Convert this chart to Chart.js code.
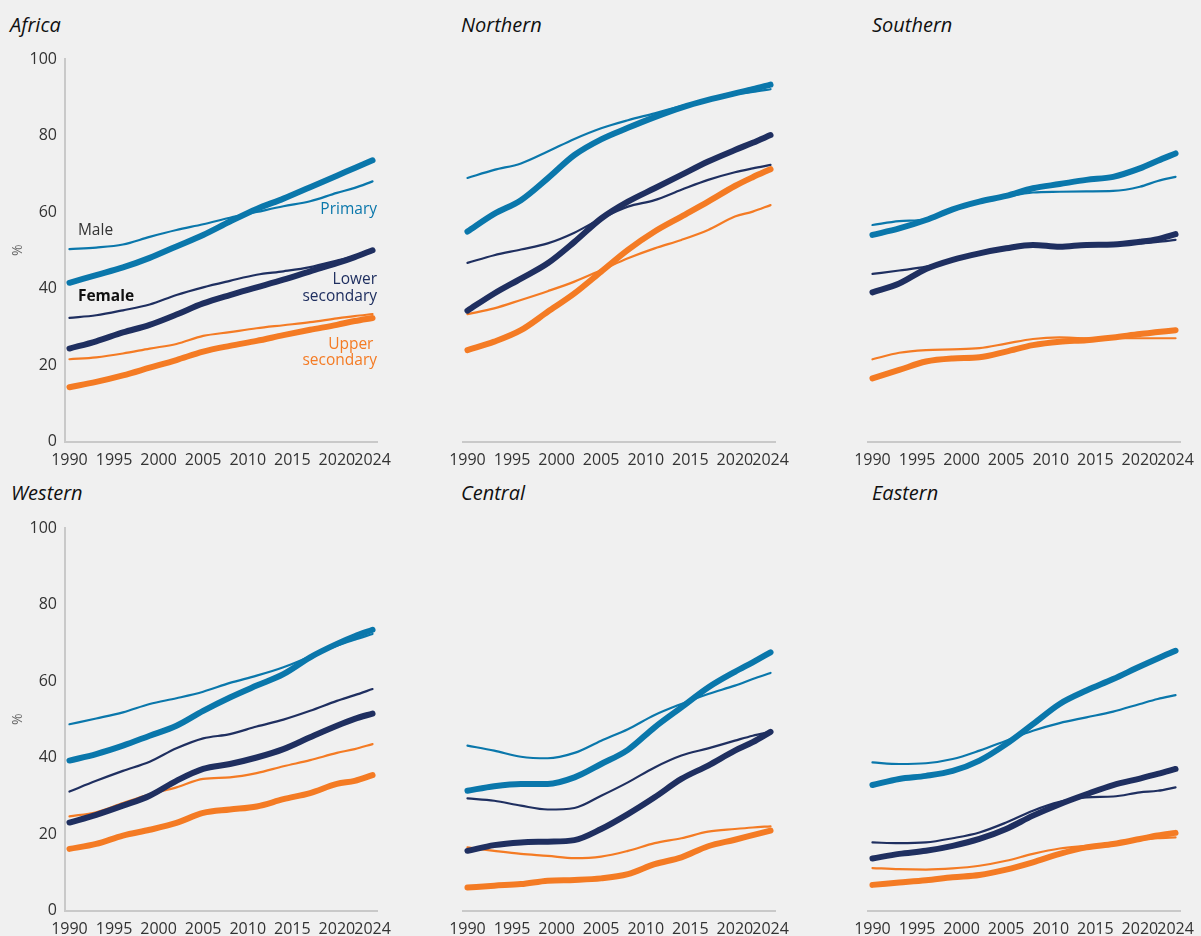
<!DOCTYPE html>
<html>
<head>
<meta charset="utf-8">
<script src="https://cdn.jsdelivr.net/npm/chart.js@4.4.1/dist/chart.umd.min.js"></script>
<style>
  html, body { margin: 0; padding: 0; background: #f0f0f0; width: 1201px; height: 936px; overflow: hidden; }
  .panel { position: absolute; }
  .panel canvas { display: block; }
  .title { position: absolute; font-family: 'Open Sans', sans-serif; font-style: italic; font-size: 20px;
           line-height: 1; color: #111; white-space: nowrap; }
</style>
</head>
<body>
<div class="title" style="left:10px;top:15px">Africa</div>
<div class="title" style="left:461px;top:15px">Northern</div>
<div class="title" style="left:872px;top:15px">Southern</div>
<div class="title" style="left:11px;top:483px">Western</div>
<div class="title" style="left:461px;top:483px">Central</div>
<div class="title" style="left:872px;top:483px">Eastern</div>

<div class="panel" style="left:0px;top:40px"><canvas id="c-africa" width="401" height="440"></canvas></div>
<div class="panel" style="left:398px;top:40px"><canvas id="c-northern" width="401" height="440"></canvas></div>
<div class="panel" style="left:803px;top:40px"><canvas id="c-southern" width="401" height="440"></canvas></div>
<div class="panel" style="left:0px;top:509px"><canvas id="c-western" width="401" height="427"></canvas></div>
<div class="panel" style="left:398px;top:509px"><canvas id="c-central" width="401" height="427"></canvas></div>
<div class="panel" style="left:803px;top:509px"><canvas id="c-eastern" width="401" height="427"></canvas></div>

<script>
// Completion rates (%) by education level and sex, 1990–2024
const years = [1990, 1993, 1996, 1999, 2002, 2005, 2008, 2011, 2014, 2017, 2020, 2022, 2024];
const tickYears = [1990, 1995, 2000, 2005, 2010, 2015, 2020, 2024];
const yTicks = [0, 20, 40, 60, 80, 100];

// Africa
const africaPrimaryFemale = [41.5, 43.5, 45.5, 48, 51, 54, 57.5, 60.8, 63.5, 66.5, 69.5, 71.5, 73.5];
const africaPrimaryMale   = [50.3, 50.7, 51.5, 53.5, 55.3, 56.8, 58.5, 60, 61.5, 62.8, 65, 66.3, 68];
const africaLowerFemale   = [24.3, 26.2, 28.5, 30.5, 33.2, 36.1, 38.3, 40.3, 42.3, 44.5, 46.6, 48.2, 50];
const africaLowerMale     = [32.3, 33, 34.3, 35.8, 38.3, 40.3, 42, 43.6, 44.5, 45.6, 47.3, 48.5, 50];
const africaUpperFemale   = [14.2, 15.6, 17.3, 19.3, 21.3, 23.5, 25, 26.3, 27.8, 29.2, 30.5, 31.5, 32.3];
const africaUpperMale     = [21.5, 22, 23, 24.3, 25.5, 27.6, 28.6, 29.6, 30.4, 31.2, 32.2, 32.8, 33.3];

// Northern Africa
const northernPrimaryFemale = [54.9, 59.5, 63.1, 68.8, 74.9, 79, 82, 84.8, 87.3, 89.3, 91, 92.1, 93.3];
const northernPrimaryMale   = [68.9, 71, 72.7, 75.8, 79.1, 81.9, 84, 85.8, 87.7, 89.5, 90.8, 91.4, 92.1];
const northernLowerFemale   = [34.2, 38.7, 42.6, 46.6, 52.2, 58.3, 62.7, 66.2, 69.7, 73.2, 76.2, 78.1, 80.1];
const northernLowerMale     = [46.7, 48.7, 50.2, 51.8, 54.6, 58.3, 61.4, 63.1, 65.8, 68.4, 70.4, 71.4, 72.3];
const northernUpperFemale   = [23.9, 26.1, 29.1, 33.9, 38.7, 44.4, 50.1, 54.9, 58.8, 62.7, 66.8, 69.1, 71.2];
const northernUpperMale     = [33.3, 34.8, 37, 39.3, 41.8, 44.8, 47.9, 50.5, 52.7, 55.3, 58.8, 60.1, 61.8];

// Southern Africa
const southernPrimaryFemale = [54, 55.7, 57.9, 60.7, 62.7, 64.2, 66.2, 67.3, 68.4, 69.2, 71.4, 73.4, 75.3];
const southernPrimaryMale   = [56.6, 57.6, 58.1, 60.7, 62.7, 64, 65.1, 65.3, 65.4, 65.5, 66.6, 68.1, 69.2];
const southernLowerFemale   = [39, 41.3, 45.1, 47.5, 49.2, 50.5, 51.4, 50.9, 51.4, 51.5, 52.2, 52.9, 54.2];
const southernLowerMale     = [43.8, 44.7, 45.7, 47.5, 49.2, 50.5, 51.1, 50.8, 51.1, 51.4, 51.8, 52.2, 52.7];
const southernUpperFemale   = [16.5, 18.7, 20.9, 21.7, 22, 23.5, 25.2, 26.1, 26.5, 27.2, 28.1, 28.6, 29.1];
const southernUpperMale     = [21.5, 23.2, 23.9, 24.1, 24.4, 25.6, 26.8, 27.2, 27, 27.1, 27, 27, 27];

// Western Africa
const westernPrimaryFemale = [39.2, 40.9, 43.1, 45.7, 48.3, 52.2, 55.7, 58.8, 61.8, 66.2, 69.7, 71.7, 73.4];
const westernPrimaryMale   = [48.7, 50.2, 51.8, 54, 55.5, 57.2, 59.5, 61.4, 63.6, 66.4, 69.2, 70.8, 72.3];
const westernLowerFemale   = [23, 25, 27.4, 30, 33.9, 37, 38.3, 40, 42.2, 45.3, 48.3, 50.1, 51.5];
const westernLowerMale     = [31.1, 33.9, 36.5, 38.9, 42.4, 45, 46.1, 48.1, 49.9, 52.2, 54.8, 56.3, 57.9];
const westernUpperFemale   = [16.1, 17.4, 19.6, 21.1, 22.9, 25.5, 26.4, 27.2, 29.1, 30.7, 33.1, 33.9, 35.4];
const westernUpperMale     = [24.6, 25.7, 28.1, 30.4, 32.2, 34.4, 34.8, 35.9, 37.7, 39.3, 41.2, 42.2, 43.5];

// Central Africa
const centralPrimaryFemale = [31.3, 32.5, 33.1, 33.1, 34.8, 38.3, 42, 47.9, 53.1, 58.3, 62.4, 64.9, 67.5];
const centralPrimaryMale   = [43.1, 41.8, 40.2, 39.8, 41.2, 44.4, 47.4, 51.1, 54, 56.6, 58.8, 60.5, 62.1];
const centralLowerFemale   = [15.6, 17.1, 17.8, 18, 18.4, 21.3, 25.2, 29.6, 34.4, 37.9, 41.8, 44, 46.7];
const centralLowerMale     = [29.3, 28.7, 27.4, 26.4, 26.8, 30, 33.5, 37.4, 40.5, 42.4, 44.4, 45.7, 46.7];
const centralUpperFemale   = [6, 6.5, 6.9, 7.8, 8, 8.4, 9.5, 12.1, 13.9, 16.8, 18.5, 19.7, 20.9];
const centralUpperMale     = [16.5, 15.6, 14.8, 14.3, 13.7, 14.1, 15.6, 17.6, 18.9, 20.6, 21.3, 21.7, 22];

// Eastern Africa
const easternPrimaryFemale = [32.8, 34.4, 35.2, 36.5, 39.2, 43.5, 48.7, 54, 57.5, 60.5, 63.8, 65.9, 67.9];
const easternPrimaryMale   = [38.7, 38.3, 38.5, 39.6, 41.8, 44.4, 47, 49, 50.5, 52, 54, 55.3, 56.3];
const easternLowerFemale   = [13.6, 14.8, 15.6, 16.9, 18.7, 21.3, 24.8, 27.8, 30.4, 32.8, 34.5, 35.7, 37];
const easternLowerMale     = [17.8, 17.6, 17.8, 18.9, 20.4, 23, 26.1, 28.4, 29.6, 29.8, 30.9, 31.3, 32.2];
const easternUpperFemale   = [6.7, 7.3, 7.9, 8.7, 9.3, 10.7, 12.6, 14.8, 16.5, 17.4, 18.7, 19.6, 20.3];
const easternUpperMale     = [11.1, 10.8, 10.7, 11, 11.7, 13, 14.8, 16.2, 16.9, 17.6, 18.5, 18.9, 19.1];

const COLOR_PRIMARY = '#0a77ab';
const COLOR_LOWER = '#1f2f60';
const COLOR_UPPER = '#f47b24';
const AXIS_COLOR = '#c9c9c9';
const TEXT_COLOR = '#333333';
const FONT = "'Open Sans', sans-serif";

function pts(values) {
  return years.map((yr, i) => ({ x: yr, y: values[i] }));
}

function line(values, color, female) {
  return {
    data: pts(values),
    borderColor: color,
    backgroundColor: color,
    borderWidth: female ? 6 : 2.2,
    pointRadius: 0,
    pointHoverRadius: 0,
    cubicInterpolationMode: 'monotone',
    borderCapStyle: 'round',
    borderJoinStyle: 'round',
    fill: false,
    clip: false
  };
}

// Text labels naming each line group (first panel only)
const seriesLabels = {
  id: 'seriesLabels',
  afterDatasetsDraw(chart) {
    const { ctx, scales: { x, y } } = chart;
    const items = [
      { t: 'Male',      xv: 1990.95, yv: 55.1, align: 'left',  color: TEXT_COLOR, bold: false },
      { t: 'Female',    xv: 1990.95, yv: 37.9, align: 'left',  color: '#111111',  bold: true },
      { t: 'Primary',   xv: 2024.5,  yv: 60.7, align: 'right', color: COLOR_PRIMARY, bold: false },
      { t: 'Lower',     xv: 2024.5,  yv: 42.4, align: 'right', color: COLOR_LOWER, bold: false },
      { t: 'secondary', xv: 2024.5,  yv: 38.0, align: 'right', color: COLOR_LOWER, bold: false },
      { t: 'Upper',     xv: 2024.1,  yv: 25.4, align: 'right', color: COLOR_UPPER, bold: false },
      { t: 'secondary', xv: 2024.5,  yv: 21.1, align: 'right', color: COLOR_UPPER, bold: false }
    ];
    ctx.save();
    ctx.textBaseline = 'middle';
    items.forEach(it => {
      ctx.font = (it.bold ? '700 ' : '400 ') + '15.5px ' + FONT;
      ctx.fillStyle = it.color;
      ctx.textAlign = it.align;
      ctx.fillText(it.t, x.getPixelForValue(it.xv), y.getPixelForValue(it.yv));
    });
    ctx.restore();
  }
};

function makeChart(id, series, opts) {
  const datasets = [
    line(series.primaryFemale, COLOR_PRIMARY, true),
    line(series.lowerFemale, COLOR_LOWER, true),
    line(series.upperFemale, COLOR_UPPER, true),
    line(series.primaryMale, COLOR_PRIMARY, false),
    line(series.lowerMale, COLOR_LOWER, false),
    line(series.upperMale, COLOR_UPPER, false)
  ];
  new Chart(document.getElementById(id), {
    type: 'line',
    data: { datasets },
    options: {
      responsive: false,
      animation: false,
      devicePixelRatio: 1,
      layout: { padding: { top: 19, right: 24, bottom: 0, left: 0 } },
      plugins: { legend: { display: false }, tooltip: { enabled: false }, title: { display: false } },
      scales: {
        x: {
          type: 'linear',
          min: 1989.5,
          max: 2024.5,
          grid: { display: false, drawTicks: false, tickLength: 0 },
          border: { display: true, color: AXIS_COLOR, width: 2 },
          afterBuildTicks: (s) => { s.ticks = tickYears.map(v => ({ value: v })); },
          afterFit: (s) => { s.height = opts.xHeight; s.paddingLeft = 0; s.paddingRight = 0; },
          ticks: {
            autoSkip: false,
            maxRotation: 0,
            minRotation: 0,
            padding: 9,
            color: TEXT_COLOR,
            font: { family: FONT, size: 16 },
            callback: (v) => String(v)
          }
        },
        y: {
          min: 0,
          max: 100,
          grid: { display: false, drawTicks: false, tickLength: 0 },
          border: { display: opts.showY, color: AXIS_COLOR, width: 2 },
          afterBuildTicks: (s) => { s.ticks = yTicks.map(v => ({ value: v })); },
          afterFit: (s) => { s.width = 65; s.paddingTop = 0; s.paddingBottom = 0; },
          ticks: {
            display: opts.showY,
            padding: 8,
            color: TEXT_COLOR,
            font: { family: FONT, size: 16 }
          },
          title: {
            display: opts.showY,
            text: '%',
            color: '#666666',
            padding: { top: 10, bottom: 0 },
            font: { family: FONT, size: 14 }
          }
        }
      }
    },
    plugins: opts.labels ? [seriesLabels] : []
  });
}

const TOP = { xHeight: 38.5 };
const BOTTOM = { xHeight: 25.5 };

makeChart('c-africa', {
  primaryFemale: africaPrimaryFemale, primaryMale: africaPrimaryMale,
  lowerFemale: africaLowerFemale, lowerMale: africaLowerMale,
  upperFemale: africaUpperFemale, upperMale: africaUpperMale
}, { ...TOP, showY: true, labels: true });

makeChart('c-northern', {
  primaryFemale: northernPrimaryFemale, primaryMale: northernPrimaryMale,
  lowerFemale: northernLowerFemale, lowerMale: northernLowerMale,
  upperFemale: northernUpperFemale, upperMale: northernUpperMale
}, { ...TOP, showY: false, labels: false });

makeChart('c-southern', {
  primaryFemale: southernPrimaryFemale, primaryMale: southernPrimaryMale,
  lowerFemale: southernLowerFemale, lowerMale: southernLowerMale,
  upperFemale: southernUpperFemale, upperMale: southernUpperMale
}, { ...TOP, showY: false, labels: false });

makeChart('c-western', {
  primaryFemale: westernPrimaryFemale, primaryMale: westernPrimaryMale,
  lowerFemale: westernLowerFemale, lowerMale: westernLowerMale,
  upperFemale: westernUpperFemale, upperMale: westernUpperMale
}, { ...BOTTOM, showY: true, labels: false });

makeChart('c-central', {
  primaryFemale: centralPrimaryFemale, primaryMale: centralPrimaryMale,
  lowerFemale: centralLowerFemale, lowerMale: centralLowerMale,
  upperFemale: centralUpperFemale, upperMale: centralUpperMale
}, { ...BOTTOM, showY: false, labels: false });

makeChart('c-eastern', {
  primaryFemale: easternPrimaryFemale, primaryMale: easternPrimaryMale,
  lowerFemale: easternLowerFemale, lowerMale: easternLowerMale,
  upperFemale: easternUpperFemale, upperMale: easternUpperMale
}, { ...BOTTOM, showY: false, labels: false });
</script>
</body>
</html>
